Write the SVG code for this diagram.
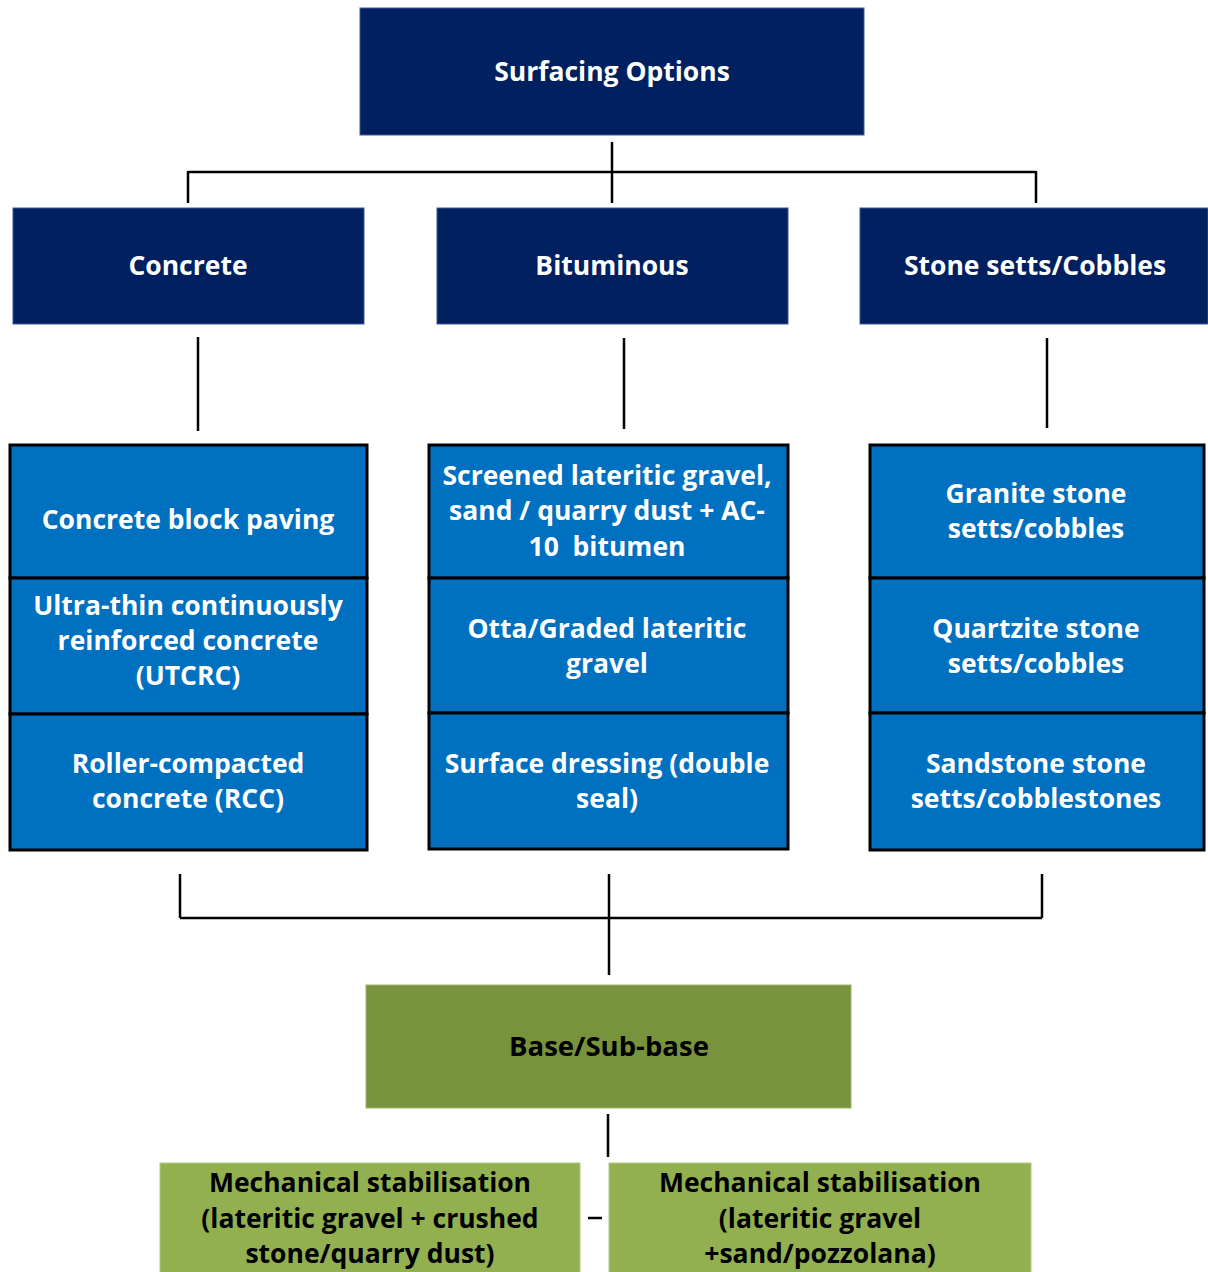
<svg xmlns="http://www.w3.org/2000/svg" width="1208" height="1272" viewBox="0 0 1208 1272">
<style>
.navy{fill:#002060;stroke:#3b5a94;stroke-width:1}
.cell{fill:#0070C0;stroke:#000;stroke-width:3}
.base{fill:#77933C;stroke:#9bb56a;stroke-width:1}
.leaf{fill:#92B050;stroke:#b4cc84;stroke-width:1}
.wt{fill:#fff;font-family:"Open Sans","Noto Sans",sans-serif;font-weight:700;font-size:26.5px;text-anchor:middle}
.bt{fill:#000;font-family:"Open Sans","Noto Sans",sans-serif;font-weight:700;font-size:26.5px;text-anchor:middle}
.ln{stroke:#000;stroke-width:2.5;fill:none}
</style>
<g id="connectors">
<path class="ln" d="M612 142V203M188 172H1036M188 171V203M1036 171V203"/>
<path class="ln" d="M198 337V431M624 338V429M1047 338V428"/>
<path class="ln" d="M180 874V918M1042 874V918M180 918H1042M609 874V975"/>
<path class="ln" d="M608 1114V1157"/>
<path class="ln" d="M588 1218H602"/>
</g>
<g id="surfacing-options"><rect class="navy" x="360" y="8" width="504" height="127"/><text class="wt" x="612" y="81">Surfacing Options</text></g>
<g id="concrete"><rect class="navy" x="13" y="208" width="351" height="116"/><text class="wt" x="188" y="275">Concrete</text></g>
<g id="bituminous"><rect class="navy" x="437" y="208" width="351" height="116"/><text class="wt" x="612" y="275">Bituminous</text></g>
<g id="stone"><rect class="navy" x="860" y="208" width="348" height="116"/><text class="wt" x="1035" y="275">Stone setts/Cobbles</text></g>

<g id="concrete-block"><rect class="cell" x="10" y="445" width="357" height="133"/><text class="wt" x="188" y="529">Concrete block paving</text></g>
<g id="utcrc"><rect class="cell" x="10" y="578" width="357" height="136"/><text class="wt" x="188" y="615">Ultra-thin continuously</text><text class="wt" x="188" y="650">reinforced concrete</text><text class="wt" x="188" y="685">(UTCRC)</text></g>
<g id="rcc"><rect class="cell" x="10" y="714" width="357" height="136"/><text class="wt" x="188" y="773">Roller-compacted</text><text class="wt" x="188" y="808">concrete (RCC)</text></g>

<g id="screened"><rect class="cell" x="429" y="445" width="359" height="133"/><text class="wt" x="607" y="485">Screened lateritic gravel,</text><text class="wt" x="607" y="520">sand / quarry dust + AC-</text><text class="wt" x="607" y="556">10&#160; bitumen</text></g>
<g id="otta"><rect class="cell" x="429" y="578" width="359" height="135"/><text class="wt" x="607" y="638">Otta/Graded lateritic</text><text class="wt" x="607" y="673">gravel</text></g>
<g id="surface-dressing"><rect class="cell" x="429" y="713" width="359" height="136"/><text class="wt" x="607" y="773">Surface dressing (double</text><text class="wt" x="607" y="808">seal)</text></g>

<g id="granite"><rect class="cell" x="870" y="445" width="334" height="133"/><text class="wt" x="1036" y="503">Granite stone</text><text class="wt" x="1036" y="538">setts/cobbles</text></g>
<g id="quartzite"><rect class="cell" x="870" y="578" width="334" height="135"/><text class="wt" x="1036" y="638">Quartzite stone</text><text class="wt" x="1036" y="673">setts/cobbles</text></g>
<g id="sandstone"><rect class="cell" x="870" y="713" width="334" height="137"/><text class="wt" x="1036" y="773">Sandstone stone</text><text class="wt" x="1036" y="808">setts/cobblestones</text></g>

<g id="base"><rect class="base" x="366" y="985" width="485" height="123"/><text class="bt" x="609" y="1056" style="font-size:27.5px">Base/Sub-base</text></g>
<g id="mech1"><rect class="leaf" x="160" y="1163" width="420" height="115"/><text class="bt" x="370" y="1192">Mechanical stabilisation</text><text class="bt" x="370" y="1228">(lateritic gravel + crushed</text><text class="bt" x="370" y="1263">stone/quarry dust)</text></g>
<g id="mech2"><rect class="leaf" x="609" y="1163" width="422" height="115"/><text class="bt" x="820" y="1192">Mechanical stabilisation</text><text class="bt" x="820" y="1228">(lateritic gravel</text><text class="bt" x="820" y="1263">+sand/pozzolana)</text></g>
</svg>
